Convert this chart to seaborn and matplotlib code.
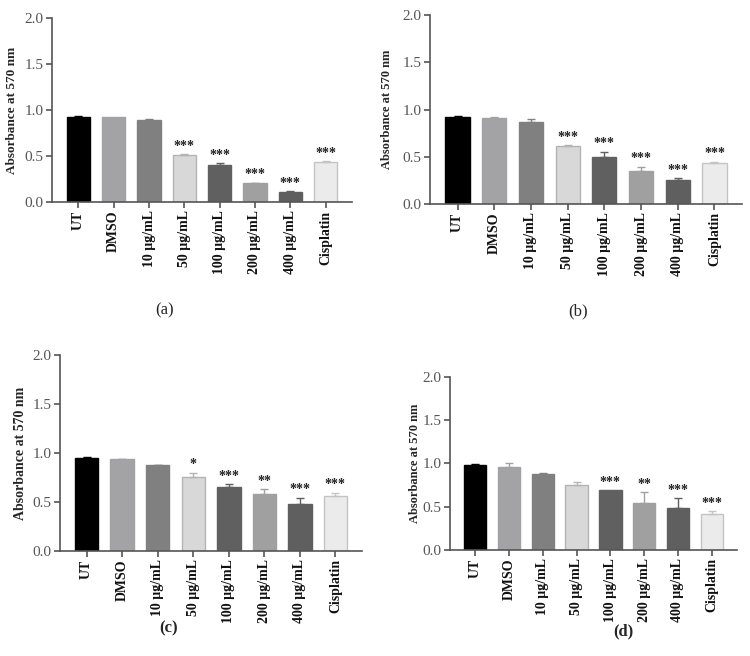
import numpy as np
import pandas as pd
import matplotlib
matplotlib.use('Agg')
import matplotlib.pyplot as plt
import seaborn as sns

sns.set_style('ticks')
plt.rcParams['font.family'] = ['Liberation Serif', 'DejaVu Serif']

groups = ['UT', 'DMSO', '10 µg/mL', '50 µg/mL', '100 µg/mL', '200 µg/mL', '400 µg/mL', 'Cisplatin']
bar_colors = ['#000000', '#a2a2a6', '#808080', '#d8d8d8', '#606060', '#a0a0a0', '#5f5f5f', '#ebebeb']
edge_colors = ['#000000', '#a2a2a6', '#808080', '#b4b4b4', '#606060', '#a0a0a0', '#5f5f5f', '#c4c4c4']

# absorbance means and upper error (SD) for each panel
vals_a = [0.925, 0.922, 0.895, 0.51, 0.40, 0.205, 0.11, 0.43]
err_a = [0.005, 0.0, 0.003, 0.01, 0.025, 0.006, 0.01, 0.012]
stars_a = ['', '', '', '***', '***', '***', '***', '***']

vals_b = [0.917, 0.915, 0.868, 0.61, 0.494, 0.353, 0.256, 0.437]
err_b = [0.02, 0.005, 0.035, 0.01, 0.058, 0.042, 0.015, 0.012]
stars_b = ['', '', '', '***', '***', '***', '***', '***']

vals_c = [0.946, 0.935, 0.874, 0.755, 0.653, 0.578, 0.483, 0.561]
err_c = [0.015, 0.005, 0.006, 0.045, 0.028, 0.05, 0.06, 0.034]
stars_c = ['', '', '', '*', '***', '**', '***', '***']

vals_d = [0.985, 0.957, 0.884, 0.753, 0.695, 0.544, 0.483, 0.421]
err_d = [0.007, 0.047, 0.004, 0.037, 0.0, 0.124, 0.115, 0.031]
stars_d = ['', '', '', '', '***', '**', '***', '***']

fig = plt.figure(figsize=(7.5, 6.56), dpi=100)

panels = [
    (vals_a, err_a, stars_a, [0.0693, 0.692, 0.40, 0.2805], '(a)', (165, 310), 'normal', -0.113, 9.5),
    (vals_b, err_b, stars_b, [0.5733, 0.689, 0.416, 0.288], '(b)', (578, 311), 'normal', -0.12, 9),
    (vals_c, err_c, stars_c, [0.08, 0.160, 0.4027, 0.2988], '(c)', (169, 628), 'bold', -0.11, 10),
    (vals_d, err_d, stars_d, [0.60, 0.1616, 0.3827, 0.2637], '(d)', (623, 631), 'bold', -0.10, 9),
]

axis_col = '#555555'

for vals, errs, stars, rect, tag, tagpos, tagweight, ylab_x, ylab_fs in panels:
    ax = fig.add_axes(rect)
    df = pd.DataFrame({'group': groups, 'value': vals})
    sns.barplot(data=df, x='group', y='value', hue='group', palette=bar_colors,
                legend=False, width=0.66, ax=ax, linewidth=1)
    for patch, ec in zip(ax.patches, edge_colors):
        patch.set_edgecolor(ec)
    # upper error bars only
    for i, (v, e) in enumerate(zip(vals, errs)):
        if e > 0:
            ax.errorbar(i, v, yerr=[[0], [e]], fmt='none', ecolor=edge_colors[i],
                        elinewidth=1, capsize=3, capthick=1)
    for i, (v, e, s) in enumerate(zip(vals, errs, stars)):
        if s:
            ax.text(i, v + e + 0.015, s, ha='center', va='bottom', fontsize=10,
                    fontweight='bold', color='#222222')
    ax.set_ylim(0, 2.0)
    ax.set_xlim(-0.75, 7.75)
    ax.set_yticks([0.0, 0.5, 1.0, 1.5, 2.0])
    ax.set_yticklabels(['0.0', '0.5', '1.0', '1.5', '2.0'], fontsize=11, color='#555555')
    ax.set_xticks(range(len(groups)))
    ax.set_xticklabels(groups, rotation=90, fontsize=10, fontweight='bold', color='#111111')
    ax.set_xlabel('')
    ax.set_ylabel('Absorbance at 570 nm', fontsize=ylab_fs, fontweight='bold')
    ax.yaxis.set_label_coords(ylab_x, 0.5)
    sns.despine(ax=ax)
    for sp in ['left', 'bottom']:
        ax.spines[sp].set_color(axis_col)
        ax.spines[sp].set_linewidth(1.2)
    ax.tick_params(axis='both', color=axis_col, width=1.2, length=4, pad=2)
    fig.text(tagpos[0] / 750, 1 - tagpos[1] / 656, tag, ha='center', va='center',
             fontsize=12, fontweight=tagweight)

fig.savefig('out.png', dpi=100)
